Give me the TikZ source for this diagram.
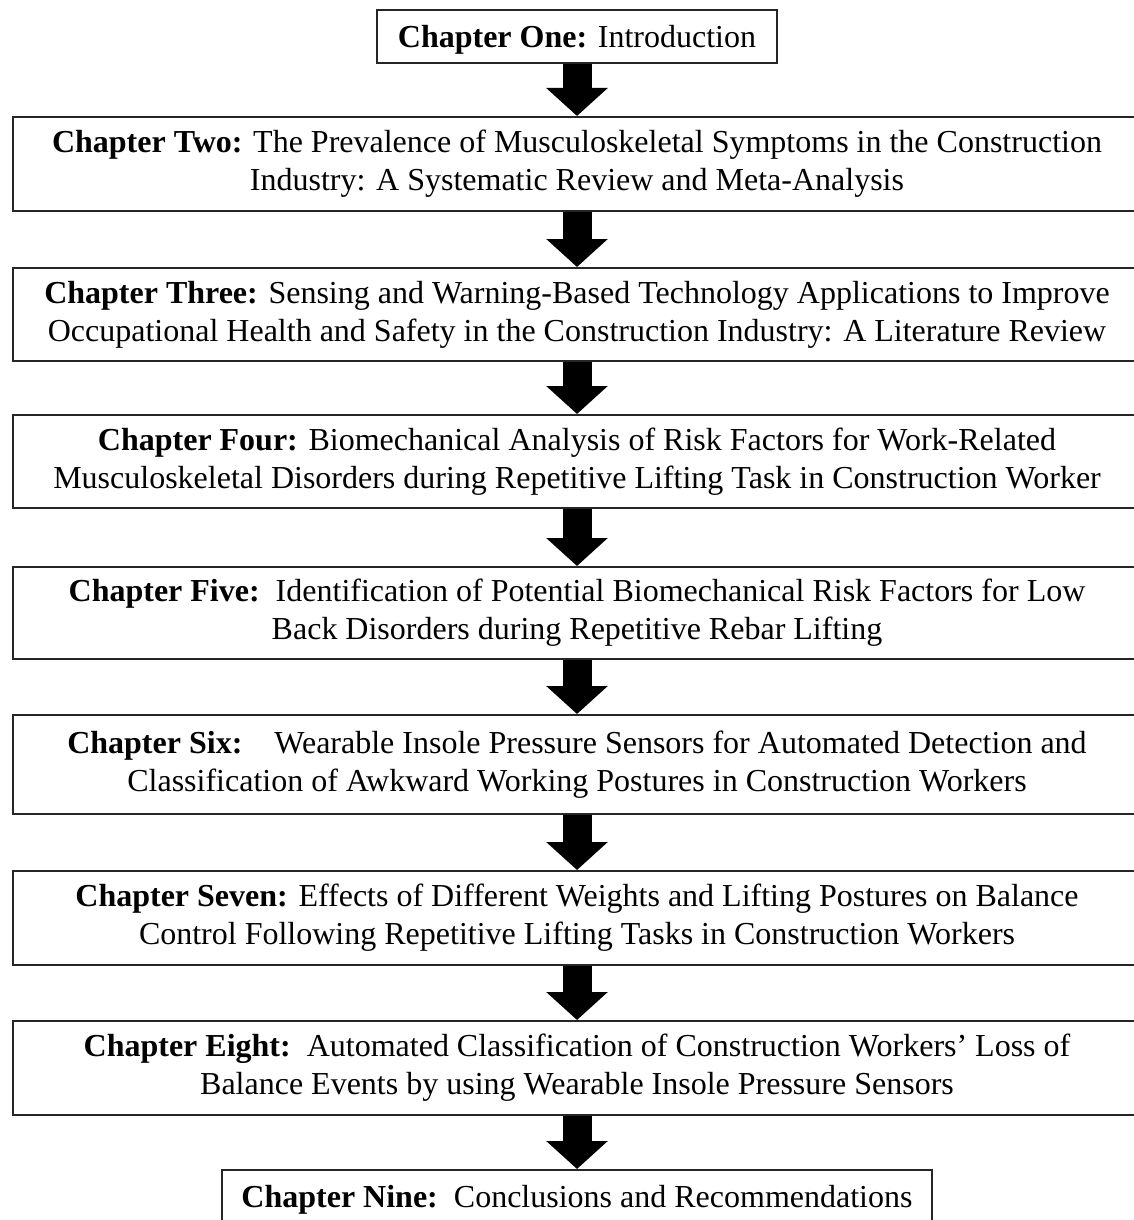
\documentclass[tikz,border=0pt]{standalone}
\usepackage{fontspec}
\setmainfont{Liberation Serif}
\usetikzlibrary{arrows.meta}

% a zero-width strut that lowers the first line slightly within each box
\newcommand{\firstlinestrut}{\rule{0pt}{29pt}}

\begin{document}
\begin{tikzpicture}[x=1pt,y=-1pt,
  chapbox/.style={draw=black!85, line width=1.8pt, fill=white, align=center,
    inner sep=0pt, anchor=north,
    font=\fontsize{32}{38}\selectfont,
    execute at begin node=\firstlinestrut},
  wide/.style={chapbox, minimum width=1128pt},
  flow/.style={line width=29pt, draw=black,
    -{Triangle[width=60pt,length=28pt]}}]
  \useasboundingbox (0,0) rectangle (1133,1220);

  % chapter boxes, top to bottom
  \node[chapbox, minimum width=400pt, minimum height=53pt] (c1) at (577,9)
    {\textbf{Chapter One:} Introduction};
  \node[wide, minimum height=94pt] (c2) at (577,116)
    {\textbf{Chapter Two:} The Prevalence of Musculoskeletal Symptoms in the Construction\\
     Industry: A Systematic Review and Meta-Analysis};
  \node[wide, minimum height=93pt] (c3) at (577,267)
    {\textbf{Chapter Three:} Sensing and Warning-Based Technology Applications to Improve\\
     Occupational Health and Safety in the Construction Industry: A Literature Review};
  \node[wide, minimum height=93pt] (c4) at (577,414)
    {\textbf{Chapter Four:} Biomechanical Analysis of Risk Factors for Work-Related\\
     Musculoskeletal Disorders during Repetitive Lifting Task in Construction Worker};
  \node[wide, minimum height=92pt] (c5) at (577,566)
    {\textbf{Chapter Five:}\ \ Identification of Potential Biomechanical Risk Factors for Low\\
     Back Disorders during Repetitive Rebar Lifting};
  \node[wide, minimum height=99pt] (c6) at (577,714)
    {\textbf{Chapter Six:}\ \ \ \ Wearable Insole Pressure Sensors for Automated Detection and\\
     Classification of Awkward Working Postures in Construction Workers};
  \node[wide, minimum height=94pt] (c7) at (577,870)
    {\textbf{Chapter Seven:} Effects of Different Weights and Lifting Postures on Balance\\
     Control Following Repetitive Lifting Tasks in Construction Workers};
  \node[wide, minimum height=94pt] (c8) at (577,1020)
    {\textbf{Chapter Eight:}\ \ Automated Classification of Construction Workers’ Loss of\\
     Balance Events by using Wearable Insole Pressure Sensors};
  \node[chapbox, minimum width=710pt, minimum height=53pt] (c9) at (577,1169)
    {\textbf{Chapter Nine:}\ \ Conclusions and Recommendations};

  % block arrows between consecutive chapters
  \foreach \a/\b in {c1/c2,c2/c3,c3/c4,c4/c5,c5/c6,c6/c7,c7/c8,c8/c9}
    \draw[flow] (\a.south) -- (\b.north);
\end{tikzpicture}
\end{document}
